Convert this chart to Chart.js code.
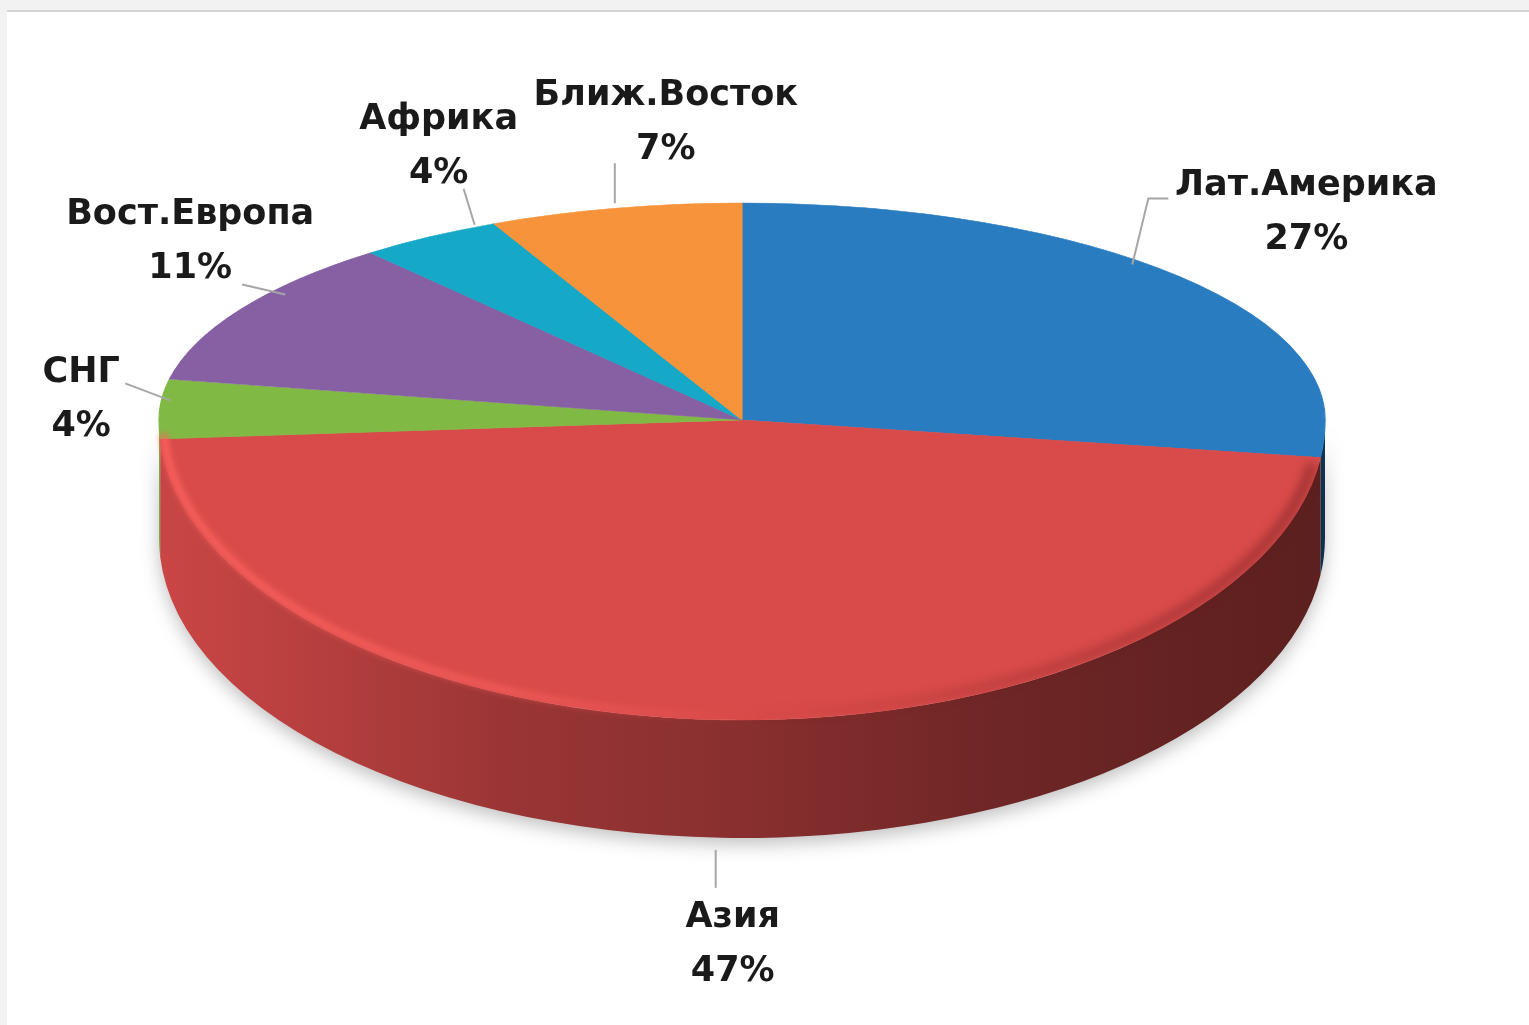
<!DOCTYPE html>
<html>
<head>
<meta charset="utf-8">
<script src="https://cdn.jsdelivr.net/npm/chart.js@4.4.1/dist/chart.umd.min.js"></script>
<style>
body { margin: 0; background: #f2f2f2; overflow: hidden; }
#frame { position: absolute; left: 7px; top: 10px; width: 1522px; height: 1015px; background: #fff; border-top: 2px solid #d4d4d4; }
#wrap { position: absolute; left: 0; top: 0; width: 1529px; height: 1025px; }
</style>
</head>
<body>
<div id="frame"></div>
<div id="wrap"><canvas id="graph1"></canvas></div>
<script>
var regions = ['Лат.Америка', 'Азия', 'СНГ', 'Вост.Европа', 'Африка', 'Ближ.Восток'];
var shares = [27, 47, 4, 11, 4, 7];
var sliceColors = ['#2a7cc0', '#d94b4a', '#80ba45', '#8760a4', '#16a8c7', '#f7933b'];

// where the label text sits / leader line bends, relative to the slice anchor
var labelOffsets = [
    { tx: 127, ty: -64, leader: [[-47, -12], [-31, -78], [-11, -78]] },
    { tx: 9, ty: 107, leader: [[-8, 12], [-8, 50]] },
    { tx: -79, ty: -6, leader: [[-35, -23], [10, -6]] },
    { tx: -50, ty: -68, leader: [[2, -25], [45, -15]] },
    { tx: 9, ty: -90, leader: [[34, -48], [45, -12]] },
    { tx: 51, ty: -85, leader: [[0, -45], [0, -5]] }
];

function shade(hex, f) {
    var n = parseInt(hex.slice(1), 16);
    var r = Math.round(((n >> 16) & 255) * f), g = Math.round(((n >> 8) & 255) * f), b = Math.round((n & 255) * f);
    return 'rgb(' + r + ',' + g + ',' + b + ')';
}

function faceTransform(ctx, arc, o, ry) {
    ctx.translate(o.cx, o.cy);
    ctx.scale(o.rx / arc.outerRadius, ry / arc.outerRadius);
    ctx.translate(-arc.x, -arc.y);
}

var pie3d = {
    id: 'pie3d',
    beforeDatasetsDraw: function (chart, args, o) {
        var ctx = chart.ctx;
        var meta = chart.getDatasetMeta(0);
        // side walls of the front half
        meta.data.forEach(function (arc, i) {
            var a = Math.max(arc.startAngle, 0), b = Math.min(arc.endAngle, Math.PI);
            if (b <= a) return;
            ctx.save();
            ctx.beginPath();
            ctx.ellipse(o.cx, o.cy, o.rx, o.ryBottom, 0, a, b);
            ctx.ellipse(o.cx, o.cy + o.depth, o.rx, o.ryBottom, 0, b, a, true);
            ctx.closePath();
            var c = sliceColors[i];
            var g = ctx.createLinearGradient(o.cx - o.rx, 0, o.cx + o.rx, 0);
            g.addColorStop(0, shade(c, 0.93));
            g.addColorStop(0.12, shade(c, 0.85));
            g.addColorStop(0.3, shade(c, 0.71));
            g.addColorStop(0.5, shade(c, 0.63));
            g.addColorStop(0.72, shade(c, 0.51));
            g.addColorStop(1, shade(c, 0.42));
            ctx.shadowColor = 'rgba(0,0,0,0.25)';
            ctx.shadowBlur = 18;
            ctx.shadowOffsetY = 6;
            ctx.fillStyle = g;
            ctx.fill();
            ctx.restore();
        });
        // back half of the top face
        ctx.save();
        ctx.beginPath();
        ctx.rect(0, 0, chart.width, o.cy);
        ctx.clip();
        faceTransform(ctx, meta.data[0], o, o.ryTop);
    },
    afterDatasetsDraw: function (chart, args, o) {
        var ctx = chart.ctx;
        var meta = chart.getDatasetMeta(0);
        ctx.restore();
        // front half of the top face
        ctx.save();
        ctx.beginPath();
        ctx.rect(0, o.cy - 0.5, chart.width, chart.height);
        ctx.clip();
        faceTransform(ctx, meta.data[0], o, o.ryBottom);
        meta.controller.draw();
        ctx.restore();

        // rim highlight on the left front edge
        ctx.save();
        ctx.filter = 'blur(3px)';
        var hg = ctx.createLinearGradient(o.cx - o.rx, 0, o.cx, 0);
        hg.addColorStop(0, 'rgba(255,100,96,0.9)');
        hg.addColorStop(0.6, 'rgba(255,100,96,0.6)');
        hg.addColorStop(1, 'rgba(255,100,96,0)');
        ctx.strokeStyle = hg;
        ctx.lineWidth = 7;
        ctx.beginPath();
        ctx.ellipse(o.cx, o.cy, o.rx - 4, o.ryBottom - 4, 0, Math.PI * 0.5, Math.PI * 0.985);
        ctx.stroke();
        // dark soft edge on the right front
        var dg = ctx.createLinearGradient(o.cx, 0, o.cx + o.rx, 0);
        dg.addColorStop(0, 'rgba(90,20,20,0)');
        dg.addColorStop(1, 'rgba(90,20,20,0.45)');
        ctx.filter = 'blur(5px)';
        ctx.strokeStyle = dg;
        ctx.lineWidth = 10;
        ctx.beginPath();
        ctx.ellipse(o.cx, o.cy, o.rx - 6, o.ryBottom - 6, 0, 0.15, Math.PI * 0.5);
        ctx.stroke();
        ctx.restore();

        // labels with leader lines
        var total = shares.reduce(function (s, v) { return s + v; }, 0);
        ctx.save();
        meta.data.forEach(function (arc, i) {
            var mid = (arc.startAngle + arc.endAngle) / 2;
            var s = Math.sin(mid);
            var ax = o.cx + o.rx * Math.cos(mid);
            var ay = s < 0 ? o.cy + o.ryTop * s : o.cy + o.ryBottom * s + o.depth;
            var lo = labelOffsets[i];
            ctx.strokeStyle = '#a6a6a6';
            ctx.lineWidth = 2;
            ctx.beginPath();
            lo.leader.forEach(function (p, k) {
                if (k === 0) ctx.moveTo(ax + p[0], ay + p[1]);
                else ctx.lineTo(ax + p[0], ay + p[1]);
            });
            ctx.stroke();
            ctx.fillStyle = '#1a1a1a';
            ctx.font = 'bold 35px "DejaVu Sans"';
            ctx.textAlign = 'center';
            ctx.textBaseline = 'middle';
            ctx.fillText(chart.data.labels[i], ax + lo.tx, ay + lo.ty - 27);
            ctx.fillText(Math.round(shares[i] / total * 100) + '%', ax + lo.tx, ay + lo.ty + 27);
        });
        ctx.restore();
    }
};

var ctx = document.getElementById('graph1').getContext('2d');
var config = {
    type: 'pie',
    data: {
        labels: regions,
        datasets: [{
            data: shares,
            backgroundColor: sliceColors,
            borderColor: sliceColors,
            borderWidth: 1,
            clip: false
        }]
    },
    options: {
        responsive: true,
        maintainAspectRatio: false,
        animation: false,
        events: [],
        plugins: {
            legend: { display: false },
            tooltip: { enabled: false },
            pie3d: { cx: 742, cy: 420, rx: 583, ryTop: 217, ryBottom: 300, depth: 118 }
        }
    },
    plugins: [pie3d]
};
var graph1 = new Chart(ctx, config);
</script>
</body>
</html>
